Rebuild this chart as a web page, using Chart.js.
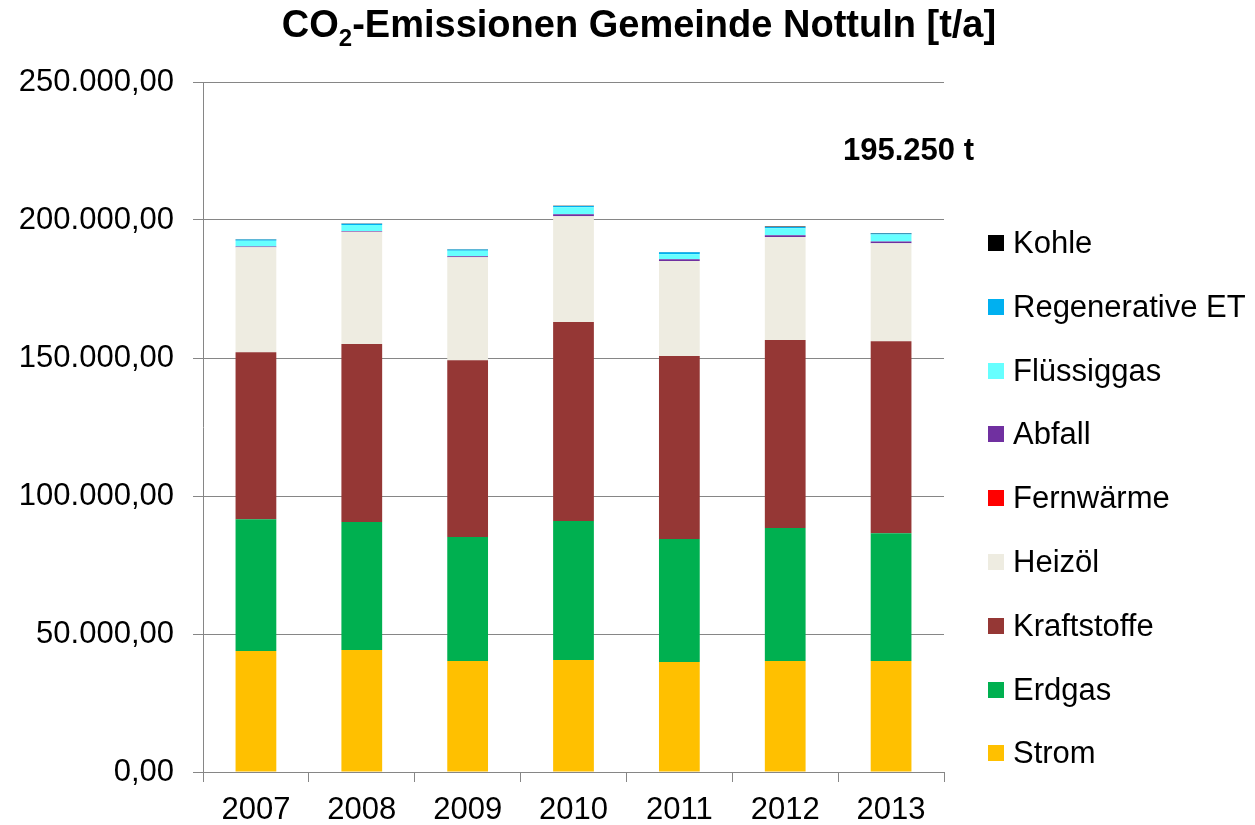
<!DOCTYPE html>
<html>
<head>
<meta charset="utf-8">
<script src="https://cdn.jsdelivr.net/npm/chart.js@4"></script>
<style>
  html, body { margin: 0; padding: 0; background: #fff; }
  #wrap { position: relative; width: 1255px; height: 825px; font-family: "Liberation Sans", Arial, sans-serif; }
  #c { position: absolute; left: 0; top: 0; }
  #title { position: absolute; left: 0; width: 1278px; top: 3px; text-align: center; font-weight: bold; font-size: 38px; color: #000; white-space: nowrap; }
  #title sub { font-size: 24px; vertical-align: -9px; line-height: 0; }
  #total { position: absolute; left: 843px; top: 132px; font-weight: bold; font-size: 31px; color: #000; white-space: nowrap; }
  .lg { position: absolute; left: 988px; height: 36px; display: flex; align-items: center; font-size: 31px; color: #000; white-space: nowrap; }
  .lg span.box { display: inline-block; width: 16px; height: 16px; margin-right: 9px; }
</style>
</head>
<body>
<div id="wrap">
  <canvas id="c" width="1255" height="825"></canvas>
  <div id="title">CO<sub>2</sub>-Emissionen Gemeinde Nottuln [t/a]</div>
  <div id="total"></div>
  <div id="legend"></div>
</div>
<script>
// ---- data (t/a) ----
const years = ["2007", "2008", "2009", "2010", "2011", "2012", "2013"];
const strom       = [43800, 44200, 40200, 40600, 39900, 40200, 40200];
const erdgas      = [47800, 46400, 44900, 50300, 44500, 48200, 46300];
const kraftstoffe = [60500, 64500, 64100, 72100, 66300, 68100, 69550];
const heizoel     = [38000, 40600, 37300, 38400, 34400, 37300, 35500];
const fernwaerme  = [0, 0, 0, 0, 0, 0, 0];
const abfall      = [300, 300, 400, 700, 700, 700, 700];
const fluessiggas = [2100, 2200, 2000, 2500, 1800, 2500, 2500];
const regenerativ = [400, 400, 400, 500, 700, 500, 400];
const kohle       = [100, 100, 100, 100, 100, 100, 100];
const yTicks = [0, 50000, 100000, 150000, 200000, 250000];

const seriesNames = ["Strom", "Erdgas", "Kraftstoffe", "Heizöl", "Fernwärme", "Abfall", "Flüssiggas", "Regenerative ET", "Kohle"];
const seriesData = [strom, erdgas, kraftstoffe, heizoel, fernwaerme, abfall, fluessiggas, regenerativ, kohle];
const seriesColors = ["#FFC000", "#00B050", "#953735", "#EEECE1", "#FF0000", "#7030A0", "#66FFFF", "#00B0F0", "#000000"];

function fmtDE(v, dec) {
  const fixed = v.toFixed(dec);
  let [intPart, frac] = fixed.split(".");
  intPart = intPart.replace(/\B(?=(\d{3})+(?!\d))/g, ".");
  return frac ? intPart + "," + frac : intPart;
}

const datasets = seriesNames.map((n, i) => ({
  label: n,
  data: seriesData[i],
  backgroundColor: seriesColors[i],
  borderWidth: 0,
  barPercentage: 0.385,
  categoryPercentage: 1.0
}));

const FONT = { family: "'Liberation Sans', Arial, sans-serif", size: 31 };
const GRID = "#868686";

new Chart(document.getElementById("c"), {
  type: "bar",
  data: { labels: years, datasets },
  options: {
    responsive: false,
    animation: false,
    layout: { padding: { left: 0, right: 311, top: 82, bottom: 0 } },
    plugins: { legend: { display: false }, title: { display: false }, tooltip: { enabled: false } },
    scales: {
      x: {
        stacked: true,
        grid: { display: true, drawOnChartArea: false, drawTicks: true, tickLength: 10, color: GRID, offset: true },
        border: { display: true, color: GRID, width: 1 },
        ticks: { font: FONT, color: "#000", padding: 10, maxRotation: 0 },
        afterFit: s => { s.height = 53; }
      },
      y: {
        stacked: true,
        min: 0, max: 250000,
        afterBuildTicks: s => { s.ticks = yTicks.map(v => ({ value: v })); },
        grid: { color: GRID, lineWidth: 1, tickLength: 10 },
        border: { display: true, color: GRID, width: 1 },
        ticks: { font: FONT, color: "#000", padding: 19, callback: v => fmtDE(v, 2) },
        afterFit: s => { s.width = 203; }
      }
    }
  }
});

// total of last year
const lastIdx = years.length - 1;
const total = seriesData.reduce((a, arr) => a + arr[lastIdx], 0);
document.getElementById("total").textContent = fmtDE(total, 0) + " t";

// legend (reverse order, like the original)
const legend = document.getElementById("legend");
const centers0 = 243, step = 63.8;
for (let k = 0; k < seriesNames.length; k++) {
  const i = seriesNames.length - 1 - k;
  const d = document.createElement("div");
  d.className = "lg";
  d.style.top = (centers0 + k * step - 18) + "px";
  d.innerHTML = '<span class="box" style="background:' + seriesColors[i] + '"></span>' + seriesNames[i];
  legend.appendChild(d);
}
</script>
</body>
</html>
